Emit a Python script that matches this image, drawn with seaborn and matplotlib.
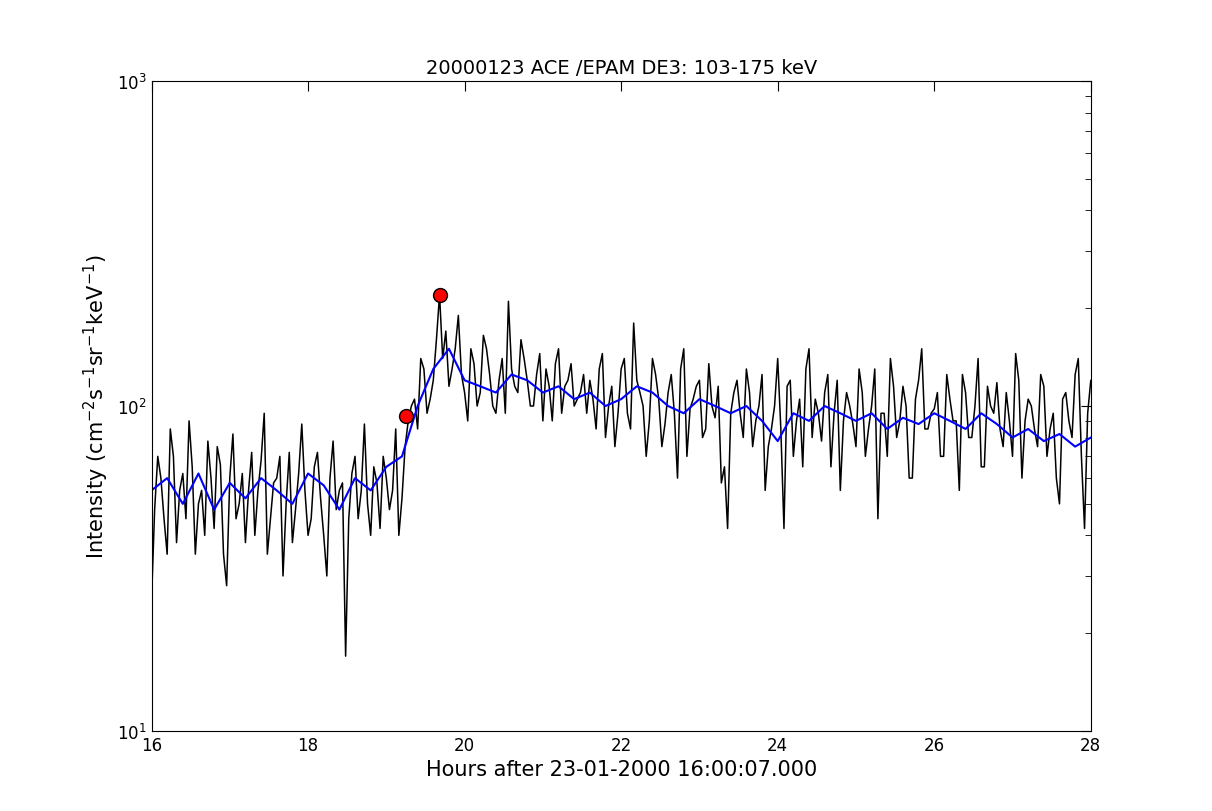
import numpy as np
import pandas as pd
import matplotlib
matplotlib.use('Agg')
import matplotlib.pyplot as plt
import seaborn as sns

# raw intensity, read by eye, every 0.08 h from 16 to 28
raw_pre = [25, 70, 45, 85, 38, 62, 90, 35, 55, 78, 42, 66, 28, 82, 50, 38, 72, 55, 95, 45,
           60, 30, 72, 48, 88, 40, 65, 52, 30, 78, 55, 17, 62, 45, 88, 40, 58, 70, 48, 85, 52]
raw_rise = [90, 105, 140, 95, 120, 220, 170, 130, 190, 110, 150, 100, 165, 125, 95,
            140, 210, 115, 160, 120, 100, 145, 130, 90, 150, 115, 135, 105, 125]
raw_post = [120, 85, 145, 100, 75, 130, 95, 180, 110, 70, 140, 105, 88, 125, 60, 150, 98, 115, 80, 135,
            92, 58, 42, 110, 95, 130, 75, 100, 55, 85, 140, 42, 120, 90, 65, 150, 105, 78, 125, 95,
            55, 110, 88, 130, 70, 100, 45, 95, 140, 80, 115, 60, 105, 150, 85, 98, 70, 125, 90, 55,
            110, 80, 140, 65, 100, 118, 75, 90, 145, 60, 105, 85, 125, 70, 95, 50, 110, 80, 140, 42, 120]
# in-between samples (half steps), 150 values
raw_mid = [48, 60, 35, 70, 55, 45, 65, 50, 40, 60, 75, 35, 60, 45, 62, 55, 40, 68, 35, 58,
           70, 50, 38, 62, 55, 45, 72, 40, 60, 48, 58, 45, 70, 55, 50, 65, 42, 60, 55, 40,
           75, 100, 85, 130, 105, 160, 140, 115, 150, 125, 90, 135, 110, 150, 100, 120, 95, 130, 110, 140,
           100, 125, 90, 115, 135, 95, 120, 100, 110, 95, 105, 130, 80, 115, 95, 140, 85, 120, 100, 90,
           125, 75, 110, 95, 130, 70, 105, 120, 85, 100, 115, 65, 95, 120, 80, 110, 90, 125, 75, 100,
           85, 115, 70, 105, 130, 80, 95, 110, 65, 120, 90, 100, 75, 110, 85, 130, 95, 70, 115, 90,
           100, 60, 120, 85, 95, 110, 70, 105, 90, 125, 80, 100, 65, 115, 95, 85, 110, 70, 120, 90,
           100, 75, 115, 85, 60, 105, 90, 125, 70, 95]
step_hours = np.linspace(16, 28, len(raw_pre + raw_rise + raw_post))
half = (step_hours[1] - step_hours[0]) / 2
raw = pd.DataFrame({'hours': np.concatenate([step_hours, step_hours[:-1] + half]),
                    'flux': raw_pre + raw_rise + raw_post + raw_mid}).sort_values('hours')

# smoothed intensity, every 0.2 h
smooth_vals = [55, 60, 50, 62, 48, 58, 52, 60, 55, 50, 62, 57, 48, 60, 55, 65, 70,
               100, 130, 150, 120, 115, 110, 125, 120, 110, 115,
               105, 110, 100, 105, 115, 110, 100, 95, 105, 100,
               95, 100, 90, 78, 95, 90, 100, 95, 90, 95,
               85, 92, 88, 95, 90, 85, 95, 88, 80, 85,
               78, 82, 75, 80]
smooth_hours = np.linspace(16, 28, len(smooth_vals))

# onset and peak markers
mark_hours = [19.25, 19.68]
mark_vals = [93, 220]

sns.set_style('white')
plt.rcParams.update({'text.color': 'black', 'axes.labelcolor': 'black',
                     'xtick.color': 'black', 'ytick.color': 'black'})

fig = plt.figure(figsize=(12.12, 8.12), dpi=100)
ax = fig.add_axes([0.125, 0.0985, 0.775, 0.8005])

sns.lineplot(data=raw, x='hours', y='flux', color='black', lw=1.1, ax=ax, estimator=None, sort=False)
sns.lineplot(x=smooth_hours, y=smooth_vals, color='blue', lw=1.5, ax=ax, estimator=None)
ax.plot(mark_hours, mark_vals, 'o', color='red', mec='black', ms=10)

ax.set_yscale('log')
ax.set_xlim(16, 28)
ax.set_ylim(10, 1000)
ax.set_xticks(range(16, 29, 2))
ax.tick_params(which='major', direction='in', top=True, right=True, length=7, labelsize=12)
ax.tick_params(which='minor', direction='in', right=True, length=4)
ax.tick_params(axis='x', which='minor', bottom=False, top=False)
for s in ax.spines.values():
    s.set_color('black')
ax.set_title('20000123 ACE /EPAM DE3: 103-175 keV', fontsize=14)
ax.set_xlabel('Hours after 23-01-2000 16:00:07.000', fontsize=15)
ax.set_ylabel(r'Intensity (cm$^{-2}$s$^{-1}$sr$^{-1}$keV$^{-1}$)', fontsize=15)

fig.savefig('out.png', dpi=100)
